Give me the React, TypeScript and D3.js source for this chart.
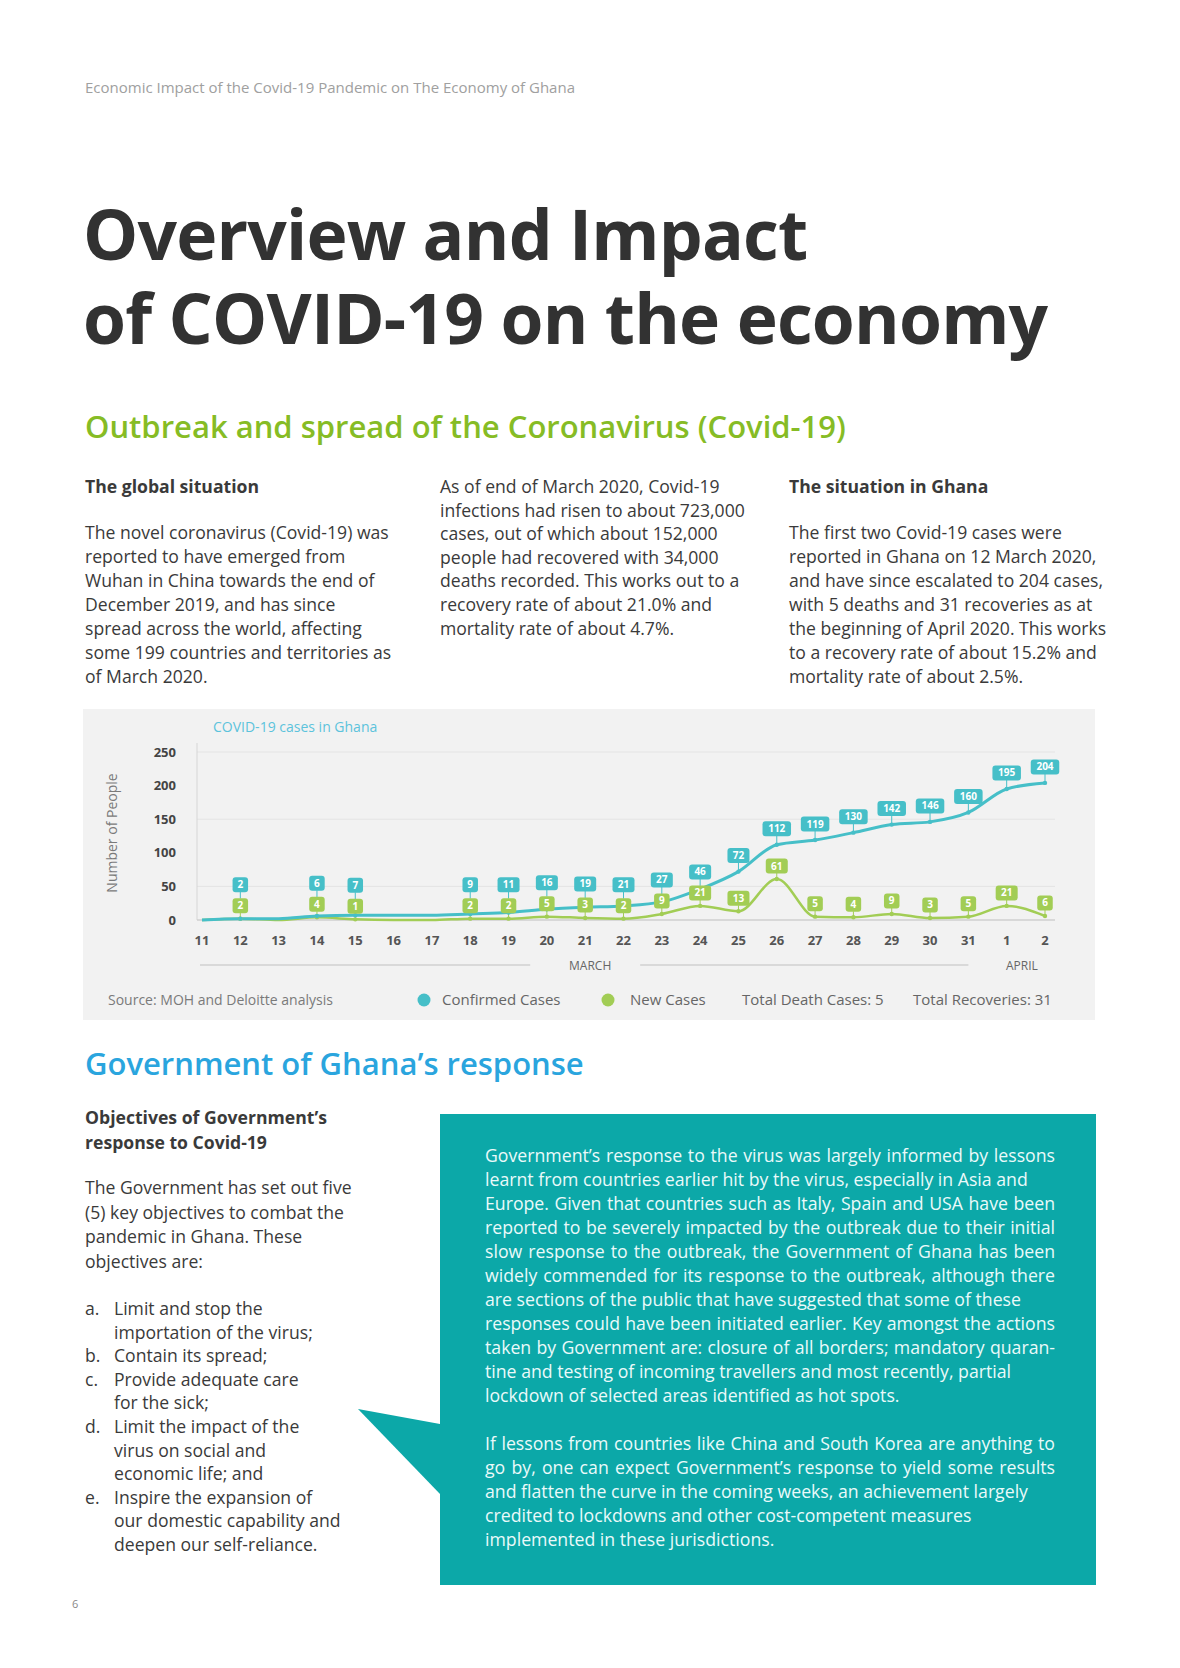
import React from "react";
import * as d3 from "d3";

// ---------- chart data ----------
const days = ["11","12","13","14","15","16","17","18","19","20","21","22","23","24","25","26","27","28","29","30","31","1","2"];
const confirmedCases = [0,2,2,6,7,7,7,9,11,16,19,21,27,46,72,112,119,130,142,146,160,195,204];
const newCases = [0,2,0,4,1,0,0,2,2,5,3,2,9,21,13,61,5,4,9,3,5,21,6];
const yTicks = [0,50,100,150,200,250];
const gridTicks = [50,150,250];
const months = [
  { name: "MARCH", from: "11", to: "31" },
  { name: "APRIL", from: "1", to: "2" },
];
const totalDeaths = 5;
const totalRecoveries = 31;

// ---------- page text ----------
const headerText = "Economic Impact of the Covid-19 Pandemic on The Economy of Ghana";
const titleLines = ["Overview and Impact", "of COVID-19 on the economy"];
const subtitle = "Outbreak and spread of the Coronavirus (Covid-19)";
const col1Head = "The global situation";
const col1Body = [
  "The novel coronavirus (Covid-19) was",
  "reported to have emerged from",
  "Wuhan in China towards the end of",
  "December 2019, and has since",
  "spread across the world, affecting",
  "some 199 countries and territories as",
  "of March 2020.",
];
const col2Body = [
  "As of end of March 2020, Covid-19",
  "infections had risen to about 723,000",
  "cases, out of which about 152,000",
  "people had recovered with 34,000",
  "deaths recorded. This works out to a",
  "recovery rate of about 21.0% and",
  "mortality rate of about 4.7%.",
];
const col3Head = "The situation in Ghana";
const col3Body = [
  "The first two Covid-19 cases were",
  "reported in Ghana on 12 March 2020,",
  "and have since escalated to 204 cases,",
  "with 5 deaths and 31 recoveries as at",
  "the beginning of April 2020. This works",
  "to a recovery rate of about 15.2% and",
  "mortality rate of about 2.5%.",
];
const govHeading = "Government of Ghana\u2019s response";
const objHead = ["Objectives of Government\u2019s", "response to Covid-19"];
const objBody = [
  "The Government has set out five",
  "(5) key objectives to combat the",
  "pandemic in Ghana. These",
  "objectives are:",
];
const objList = [
  { k: "a.", lines: ["Limit and stop the", "importation of the virus;"] },
  { k: "b.", lines: ["Contain its spread;"] },
  { k: "c.", lines: ["Provide adequate care", "for the sick;"] },
  { k: "d.", lines: ["Limit the impact of the", "virus on social and", "economic life; and"] },
  { k: "e.", lines: ["Inspire the expansion of", "our domestic capability and", "deepen our self-reliance."] },
];
const boxPara1 = [
  "Government\u2019s response to the virus was largely informed by lessons",
  "learnt from countries earlier hit by the virus, especially in Asia and",
  "Europe. Given that countries such as Italy, Spain and USA have been",
  "reported to be severely impacted by the outbreak due to their initial",
  "slow response to the outbreak, the Government of Ghana has been",
  "widely commended for its response to the outbreak, although there",
  "are sections of the public that have suggested that some of these",
  "responses could have been initiated earlier. Key amongst the actions",
  "taken by Government are: closure of all borders; mandatory quaran-",
  "tine and testing of incoming travellers and most recently, partial",
  "lockdown of selected areas identified as hot spots.",
];
const boxPara2 = [
  "If lessons from countries like China and South Korea are anything to",
  "go by, one can expect Government\u2019s response to yield some results",
  "and flatten the curve in the coming weeks, an achievement largely",
  "credited to lockdowns and other cost-competent measures",
  "implemented in these jurisdictions.",
];

const FONT = "'Open Sans', 'DejaVu Sans', sans-serif";
const TEAL = "#46bfc8";
const GREEN = "#a2cd55";

let _ctx: CanvasRenderingContext2D | null = null;
function measure(t: string, font: string) {
  if (!_ctx) _ctx = document.createElement("canvas").getContext("2d");
  if (!_ctx) return t.length * 8;
  _ctx.font = font;
  return _ctx.measureText(t).width;
}

function Justified({ lines, x, y0, width, lh, size, fill }: any) {
  const font = `${size}px "Open Sans"`;
  return (
    <g>
      {lines.map((ln: string, i: number) => {
        const y = y0 + i * lh;
        const natural = measure(ln, font);
        const last = i === lines.length - 1;
        if (last || natural < width * 0.97) {
          return (
            <text key={i} x={x} y={y} fontSize={size} fill={fill}>{ln}</text>
          );
        }
        const words = ln.split(" ");
        const ws = words.map((w) => measure(w, font));
        const total = ws.reduce((a, b) => a + b, 0);
        const gap = words.length > 1 ? (width - total) / (words.length - 1) : 0;
        let cx = x;
        const xs = ws.map((w) => {
          const p = cx;
          cx += w + gap;
          return p;
        });
        return (
          <text key={i} y={y} fontSize={size} fill={fill}>
            {words.map((w, j) => (
              <tspan key={j} x={xs[j]}>{w}</tspan>
            ))}
          </text>
        );
      })}
    </g>
  );
}

function Chart() {
  const x = d3.scalePoint<string>().domain(days).range([202, 1045]);
  const y = d3.scaleLinear().domain([0, 250]).range([920, 752]);
  const line = d3
    .line<number>()
    .x((_, i) => x(days[i]) as number)
    .y((d) => y(d))
    .curve(d3.curveMonotoneX);

  const labels = days
    .map((d, i) => {
      if (newCases[i] <= 0) return null;
      const px = x(d) as number;
      const gy = Math.min(y(newCases[i]) - 13, 907);
      const ty = Math.min(y(confirmedCases[i]) - 16, gy - 21);
      return { px, gy, ty, i };
    })
    .filter(Boolean) as any[];

  const bubble = (cx: number, cy: number, val: number, color: string, key: string) => {
    const t = String(val);
    const w = 9 + t.length * 6.5;
    return (
      <g key={key}>
        <rect x={cx - w / 2} y={cy - 7.5} width={w} height={15} rx={3} fill={color} />
        <text x={cx} y={cy + 3.5} textAnchor="middle" fontSize={10} fontWeight={700} fill="#ffffff">{t}</text>
      </g>
    );
  };

  return (
    <g fontFamily={FONT}>
      <rect x={83} y={709} width={1012} height={311} fill="#f2f2f2" />
      <text x={213} y={732} fontSize={14} fill="#5cc3dc">COVID-19 cases in Ghana</text>
      <text transform="translate(117,833) rotate(-90)" textAnchor="middle" fontSize={14} fill="#7a7a7a">Number of People</text>
      {gridTicks.map((t) => (
        <line key={t} x1={197} x2={1055} y1={y(t)} y2={y(t)} stroke="#e4e4e4" strokeWidth={1} />
      ))}
      <line x1={197} x2={197} y1={743} y2={y(0)} stroke="#d6d6d6" />
      <line x1={197} x2={1055} y1={y(0)} y2={y(0)} stroke="#cfcfcf" strokeWidth={1.5} />
      {yTicks.map((t) => (
        <text key={t} x={176} y={y(t) + 4.5} textAnchor="end" fontSize={13} fontWeight={700} fill="#444">{t}</text>
      ))}
      {days.map((d) => (
        <text key={d} x={x(d) as number} y={945} textAnchor="middle" fontSize={13} fontWeight={700} fill="#555">{d}</text>
      ))}
      {months.map((m) => {
        const a = x(m.from) as number;
        const b = x(m.to) as number;
        const mid = (a + b) / 2;
        const half = m.name === "MARCH" ? 55 : 0;
        return (
          <g key={m.name}>
            {half > 0 && (
              <>
                <line x1={a - 2} x2={mid - half} y1={965} y2={965} stroke="#d0d0d0" strokeWidth={1.5} />
                <line x1={mid + half} x2={b} y1={965} y2={965} stroke="#d0d0d0" strokeWidth={1.5} />
              </>
            )}
            <text x={mid + (half > 0 ? 5 : -4)} y={969.5} textAnchor="middle" fontSize={12} fill="#666">{m.name}</text>
          </g>
        );
      })}
      <path d={line(newCases) || ""} fill="none" stroke={GREEN} strokeWidth={2.5} />
      <path d={line(confirmedCases) || ""} fill="none" stroke={TEAL} strokeWidth={3} />
      {labels.map((l) => (
        <g key={"s" + l.i}>
          <line x1={l.px} x2={l.px} y1={l.gy + 7} y2={y(newCases[l.i])} stroke={GREEN} strokeWidth={1} />
          <line x1={l.px} x2={l.px} y1={l.ty + 7} y2={Math.min(l.gy - 7, y(confirmedCases[l.i]))} stroke={TEAL} strokeWidth={1} />
          <circle cx={l.px} cy={y(newCases[l.i])} r={2.2} fill={GREEN} />
          <circle cx={l.px} cy={y(confirmedCases[l.i])} r={2.2} fill={TEAL} />
        </g>
      ))}
      {labels.map((l) => bubble(l.px, l.gy, newCases[l.i], GREEN, "g" + l.i))}
      {labels.map((l) => bubble(l.px, l.ty, confirmedCases[l.i], TEAL, "t" + l.i))}
      {/* legend */}
      <text x={108} y={1005} fontSize={14} fill="#7a7a7a">Source: MOH and Deloitte analysis</text>
      <circle cx={424} cy={1000} r={6.5} fill={TEAL} />
      <text x={442} y={1005} fontSize={15} fill="#666">Confirmed Cases</text>
      <circle cx={608} cy={1000} r={6.5} fill={GREEN} />
      <text x={630} y={1005} fontSize={15} fill="#666">New Cases</text>
      <text x={742} y={1005} fontSize={15} fill="#666">{`Total Death Cases: ${totalDeaths}`}</text>
      <text x={913} y={1005} fontSize={15} fill="#666">{`Total Recoveries: ${totalRecoveries}`}</text>
    </g>
  );
}

function Lines({ lines, x, y0, lh, size, weight, fill }: any) {
  return (
    <g>
      {lines.map((ln: string, i: number) => (
        <text key={i} x={x} y={y0 + i * lh} fontSize={size} fontWeight={weight || 400} fill={fill}>{ln}</text>
      ))}
    </g>
  );
}

export default function App() {
  const BODY = 17.6;
  const TXT = "#3a3a3a";
  let listY = 1315;
  const listRows: any[] = [];
  objList.forEach((item) => {
    item.lines.forEach((ln, j) => {
      listRows.push({ k: j === 0 ? item.k : "", t: ln, y: listY });
      listY += 23.6;
    });
  });
  return (
    <div style={{ position: "absolute", left: 0, top: 0, width: 1180, height: 1668, background: "#fff" }}>
      <svg width={1180} height={1668} viewBox="0 0 1180 1668" style={{ display: "block" }} fontFamily={FONT}>
        <rect x={0} y={0} width={1180} height={1668} fill="#ffffff" />
        <text x={85} y={93} fontSize={15} fill="#a0a0a0">{headerText}</text>
        {titleLines.map((t, i) => (
          <text key={i} x={83} y={260 + i * 84} fontSize={69.5} fontWeight={700} fill="#323232" letterSpacing={-0.8}>{t}</text>
        ))}
        <text x={85} y={438} fontSize={31} fontWeight={600} fill="#86bc25">{subtitle}</text>

        <text x={85} y={493} fontSize={BODY} fontWeight={700} fill={TXT}>{col1Head}</text>
        <Lines lines={col1Body} x={85} y0={539} lh={24} size={BODY} fill={TXT} />
        <Lines lines={col2Body} x={440} y0={493} lh={23.6} size={BODY} fill={TXT} />
        <text x={789} y={493} fontSize={BODY} fontWeight={700} fill={TXT}>{col3Head}</text>
        <Lines lines={col3Body} x={789} y0={539} lh={24} size={BODY} fill={TXT} />

        <Chart />

        <text x={85} y={1075} fontSize={31} fontWeight={600} fill="#2aa5de">{govHeading}</text>
        <Lines lines={objHead} x={85} y0={1124} lh={24.5} size={BODY} weight={700} fill={TXT} />
        <Lines lines={objBody} x={85} y0={1194} lh={24.5} size={BODY} fill={TXT} />
        {listRows.map((r, i) => (
          <g key={i}>
            {r.k && <text x={85} y={r.y} fontSize={BODY} fill={TXT}>{r.k}</text>}
            <text x={114} y={r.y} fontSize={BODY} fill={TXT}>{r.t}</text>
          </g>
        ))}

        <rect x={440} y={1114} width={656} height={471} fill="#0ca8a8" />
        <path d="M358,1409 L440,1424 L440,1494 Z" fill="#0ca8a8" />
        <g fontFamily={FONT}>
          <Justified lines={boxPara1} x={485} y0={1162} width={570} lh={24} size={17.7} fill="#eafafa" />
          <Justified lines={boxPara2} x={485} y0={1450} width={570} lh={24} size={17.7} fill="#eafafa" />
        </g>

        <text x={72} y={1608} fontSize={11} fill="#888">6</text>
      </svg>
    </div>
  );
}
